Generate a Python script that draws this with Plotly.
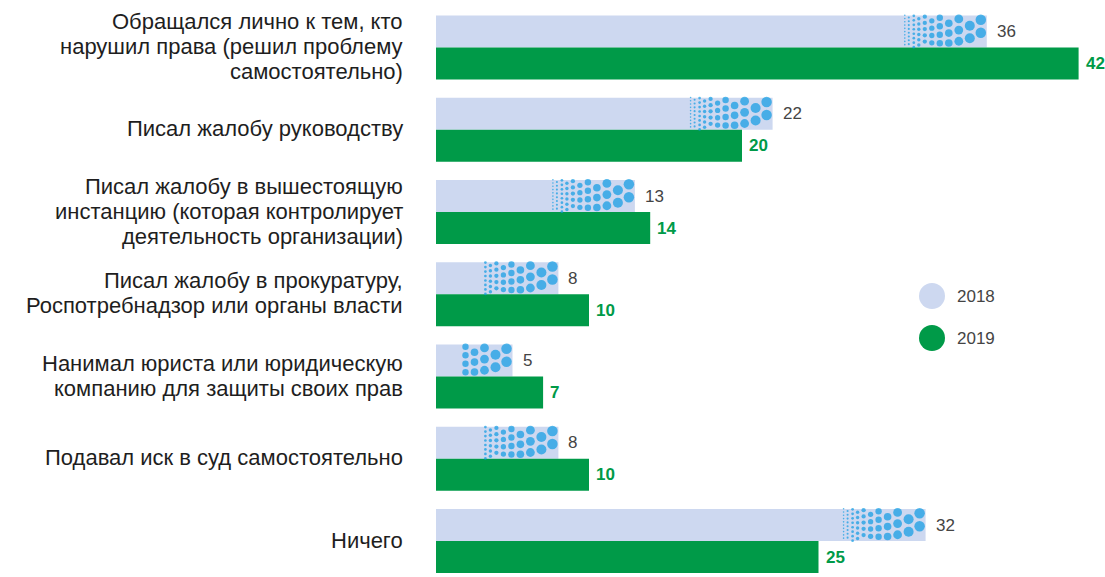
import plotly.graph_objects as go

categories = [
    "Обращался лично к тем, кто<br>нарушил права (решил проблему<br>самостоятельно)",
    "Писал жалобу руководству",
    "Писал жалобу в вышестоящую<br>инстанцию (которая контролирует<br>деятельность организации)",
    "Писал жалобу в прокуратуру,<br>Роспотребнадзор или органы власти",
    "Нанимал юриста или юридическую<br>компанию для защиты своих прав",
    "Подавал иск в суд самостоятельно",
    "Ничего",
]
values_2018 = [36, 22, 13, 8, 5, 8, 32]
values_2019 = [42, 20, 14, 10, 7, 10, 25]
series_names = ["2018", "2019"]

C2018 = "#cdd8f0"
C2019 = "#009a48"
CDOT = "#0e9be3"
FONT = "Liberation Sans, Arial, sans-serif"

PX_PER_UNIT = 15.3      # horizontal pixels per data unit
PX_PER_ROW = 82.25      # vertical pixels per category
BW = 0.389              # bar thickness in category units
LINE_PX = 25            # label line spacing

ypos = list(range(len(categories)))

fig = go.Figure()
fig.add_trace(go.Bar(
    y=ypos, x=values_2018, orientation="h", width=BW, offset=-BW,
    marker=dict(color=C2018, line=dict(width=0)), name=series_names[0],
    showlegend=False, hoverinfo="skip"))
fig.add_trace(go.Bar(
    y=ypos, x=values_2019, orientation="h", width=BW, offset=0,
    marker=dict(color=C2019, line=dict(width=0)), name=series_names[1],
    showlegend=False, hoverinfo="skip"))

# decorative dot gradient at the end of each 2018 bar
cols = [(-6, 10.5), (-17, 10), (-28, 8.8), (-38, 7.6), (-47, 6.4), (-55, 5.3),
        (-62, 4.3), (-68, 3.4), (-73, 2.7), (-78, 2.1), (-82, 1.6)]
dx_list, dy_list, s_list = [], [], []
for v, y in zip(values_2018, ypos):
    wpx = v * PX_PER_UNIT
    limit = min(86, 0.62 * wpx)
    for i, (dx, s) in enumerate(cols):
        if -dx > limit:
            continue
        spacing = s * 1.1 + 1.5
        dy = s / 2 - 1 + (i % 2) * spacing / 2
        while dy <= 33 - s / 2:
            dx_list.append(v + dx / PX_PER_UNIT)
            dy_list.append(y - BW + dy / PX_PER_ROW)
            s_list.append(s)
            dy += spacing
fig.add_trace(go.Scatter(
    x=dx_list, y=dy_list, mode="markers",
    marker=dict(color=CDOT, size=s_list, line=dict(width=0)),
    showlegend=False, hoverinfo="skip", cliponaxis=True))

annotations = []
# category labels, one annotation per line for exact line spacing
for cat, y in zip(categories, ypos):
    lines = cat.split("<br>")
    n = len(lines)
    for j, line in enumerate(lines):
        annotations.append(dict(x=0, y=y, xref="paper", yref="y", text=line,
                                xanchor="right", yanchor="middle", xshift=-31,
                                yshift=-((j - (n - 1) / 2) * LINE_PX) + 1, showarrow=False,
                                font=dict(size=22, color="#1e1e1e", family=FONT)))

for v, y in zip(values_2018, ypos):
    annotations.append(dict(x=v, y=y - BW / 2, text=str(v), xref="x", yref="y",
                            xanchor="left", yanchor="middle", xshift=8, showarrow=False,
                            font=dict(size=17, color="#444444", family=FONT)))
for v, y in zip(values_2019, ypos):
    annotations.append(dict(x=v, y=y + BW / 2, text="<b>%d</b>" % v, xref="x", yref="y",
                            xanchor="left", yanchor="middle", xshift=5, showarrow=False,
                            font=dict(size=17, color=C2019, family=FONT)))

# legend (circles + labels) in paper coordinates
L, R, W, H = 436, 11, 1105, 577
pw = W - L - R
legend_items = [(series_names[0], C2018, 296), (series_names[1], C2019, 338)]
shapes = []
for name, col, py in legend_items:
    xp = (932 - L) / pw
    yp = 1 - py / H
    shapes.append(dict(type="circle", xref="paper", yref="paper", xsizemode="pixel",
                       ysizemode="pixel", xanchor=xp, yanchor=yp, x0=-13, x1=13, y0=-13, y1=13,
                       fillcolor=col, line=dict(width=0)))
    annotations.append(dict(x=(955 - L) / pw, y=yp, xref="paper", yref="paper", text=name,
                            xanchor="left", yanchor="middle", showarrow=False,
                            font=dict(size=17, color="#444444", family=FONT)))

fig.update_layout(
    width=W, height=H,
    margin=dict(l=L, r=R, t=0, b=0),
    paper_bgcolor="white", plot_bgcolor="white",
    barmode="overlay",
    showlegend=False,
    xaxis=dict(range=[0, pw / PX_PER_UNIT], visible=False, showgrid=False, zeroline=False),
    yaxis=dict(range=[(H - 541) / PX_PER_ROW + 6, -47.5 / PX_PER_ROW],
               tickmode="array", tickvals=ypos, ticktext=[""] * len(ypos),
               showticklabels=False, automargin=False,
               showgrid=False, zeroline=False, showline=False, ticks=""),
    annotations=annotations,
    shapes=shapes,
    font=dict(family=FONT),
)

fig.write_html("out.html", config={"displayModeBar": False},
               post_script="document.body.style.margin='0';document.body.style.overflow='hidden';")
